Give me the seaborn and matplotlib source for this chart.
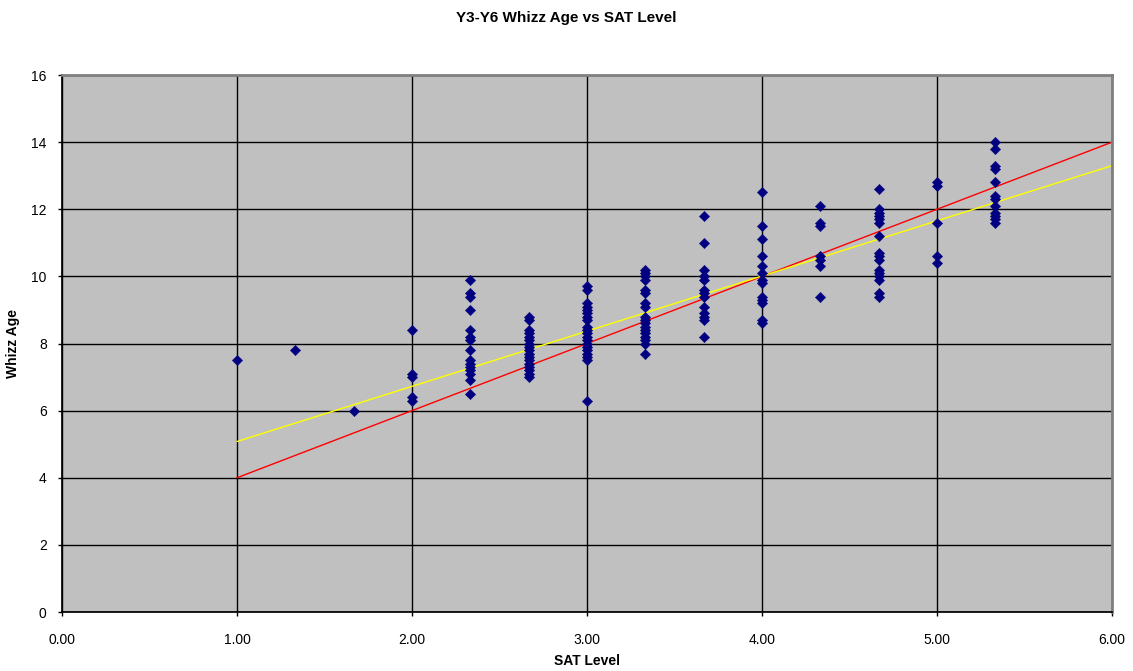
import matplotlib
matplotlib.use("Agg")
import matplotlib.pyplot as plt
import seaborn as sns
import pandas as pd
from matplotlib.ticker import FormatStrFormatter, MultipleLocator

# ---- data ----
sat_1_00 = [7.5]
sat_1_33 = [7.8]
sat_1_67 = [6.0]
sat_2_00 = [8.4, 7.1, 7.0, 6.4, 6.3]
sat_2_33 = [9.9, 9.5, 9.4, 9.0, 8.4, 8.2, 8.1, 7.8, 7.5, 7.4, 7.3, 7.2, 7.1, 6.9, 6.5]
sat_2_67 = [8.8, 8.7, 8.4, 8.3, 8.2, 8.1, 8.0, 7.9, 7.8, 7.7, 7.6, 7.5, 7.4, 7.3, 7.2, 7.1, 7.0]
sat_3_00 = [9.7, 9.6, 9.2, 9.1, 9.0, 8.9, 8.8, 8.7, 8.5, 8.4, 8.3, 8.2, 8.1, 8.0,
            7.9, 7.8, 7.7, 7.6, 7.5, 6.3]
sat_3_33 = [10.2, 10.1, 10.0, 9.9, 9.6, 9.5, 9.2, 9.1, 8.8, 8.7, 8.6, 8.5, 8.4,
            8.3, 8.2, 8.1, 8.0, 7.7]
sat_3_67 = [11.8, 11.0, 10.2, 10.0, 9.9, 9.6, 9.5, 9.4, 9.1, 8.9, 8.8, 8.7, 8.2]
sat_4_00 = [12.5, 11.5, 11.1, 10.6, 10.3, 10.1, 9.9, 9.8, 9.4, 9.3, 9.2, 8.7, 8.6]
sat_4_33 = [12.1, 11.6, 11.5, 10.6, 10.5, 10.3, 9.4]
sat_4_67 = [12.6, 12.0, 11.9, 11.8, 11.7, 11.6, 11.2, 10.7, 10.6, 10.5, 10.2,
            10.1, 10.0, 9.9, 9.5, 9.4]
sat_5_00 = [12.8, 12.7, 11.6, 10.6, 10.4]
sat_5_33 = [14.0, 13.8, 13.3, 13.2, 12.8, 12.4, 12.3, 12.1, 11.9, 11.8, 11.7, 11.6]

sat_levels = [1.00, 4/3, 5/3, 2.00, 7/3, 8/3, 3.00, 10/3, 11/3, 4.00, 13/3, 14/3, 5.00, 16/3]
whizz_groups = [sat_1_00, sat_1_33, sat_1_67, sat_2_00, sat_2_33, sat_2_67, sat_3_00,
                sat_3_33, sat_3_67, sat_4_00, sat_4_33, sat_4_67, sat_5_00, sat_5_33]

# reference lines
red_x = [1.0, 6.0]
red_y = [4.0, 14.0]
yellow_x = [1.0, 6.0]
yellow_y = [5.08, 13.3]

xs, ys = [], []
for lvl, grp in zip(sat_levels, whizz_groups):
    xs += [lvl] * len(grp)
    ys += grp
df = pd.DataFrame({"SAT Level": xs, "Whizz Age": ys})

# ---- plot ----
sns.set_theme(style="white")
plt.rcParams["font.family"] = ["Liberation Sans", "DejaVu Sans"]
plt.rcParams["text.color"] = "black"

fig = plt.figure(figsize=(11.33, 6.71), dpi=100)
ax = fig.add_axes([0.0547, 0.0879, 0.9268, 0.8003])
ax.set_facecolor("#C0C0C0")

ax.set_xlim(0, 6)
ax.set_ylim(0, 16)
ax.xaxis.set_major_locator(MultipleLocator(1))
ax.yaxis.set_major_locator(MultipleLocator(2))
ax.xaxis.set_major_formatter(FormatStrFormatter("%.2f"))
ax.grid(True, color="black", linewidth=1.0, zorder=0)
ax.set_axisbelow(True)

sns.lineplot(x=red_x, y=red_y, ax=ax, color="#FF0000", linewidth=1.0, zorder=2)
sns.lineplot(x=yellow_x, y=yellow_y, ax=ax, color="#FFFF00", linewidth=1.0, zorder=2)
sns.scatterplot(data=df, x="SAT Level", y="Whizz Age", ax=ax, marker="D",
                color="#000080", edgecolor="#000080", s=28, linewidth=0.3, zorder=3)

for side in ["top", "right"]:
    ax.spines[side].set_color("#808080")
    ax.spines[side].set_linewidth(2.0)
ax.spines["left"].set_color("black")
ax.spines["bottom"].set_color("black")

ax.tick_params(axis="both", direction="out", length=3, width=1, color="black",
               labelsize=10, labelcolor="black", bottom=True, left=True)
ax.tick_params(axis="x", pad=12)
ax.tick_params(axis="y", pad=8)

ax.set_xlabel("SAT Level", fontsize=10, fontweight="bold", labelpad=5, color="black")
ax.set_ylabel("Whizz Age", fontsize=10, fontweight="bold", labelpad=8, color="black")
fig.suptitle("Y3-Y6 Whizz Age vs SAT Level", y=0.983, fontsize=11,
             fontweight="bold", color="black")

fig.savefig("out.png", dpi=100, facecolor="white")
